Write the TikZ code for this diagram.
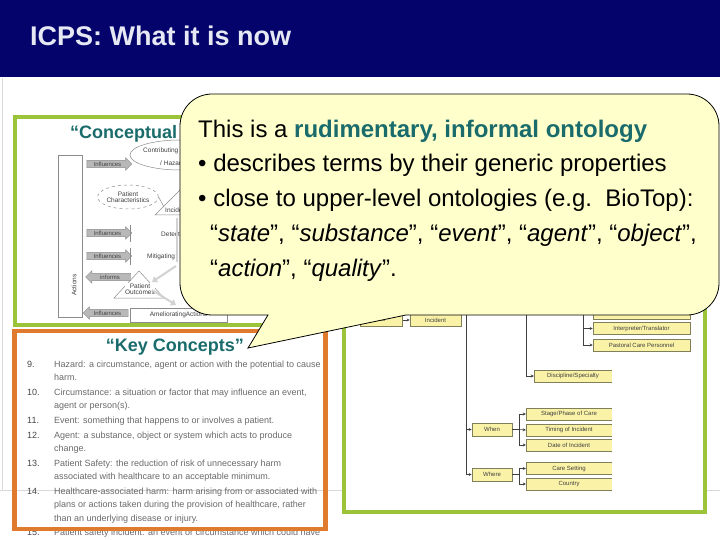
\documentclass[tikz,border=0pt]{standalone}
\usepackage{fontspec}
\setmainfont{Liberation Sans}
\usetikzlibrary{shapes.geometric,shapes.arrows,arrows.meta}
\definecolor{navy}{HTML}{03036B}
\definecolor{titletext}{HTML}{E6E8F4}
\definecolor{kteal}{HTML}{1A6B6B}
\definecolor{fgreen}{HTML}{9BC43A}
\definecolor{forange}{HTML}{E07A2C}
\definecolor{callfill}{HTML}{FFFFCC}
\definecolor{boxfill}{HTML}{FAF2A6}
\definecolor{boxline}{HTML}{7F7F5A}
\definecolor{tmpl}{HTML}{D9D9D9}
\definecolor{listtext}{HTML}{6A6A6A}
\definecolor{listnum}{HTML}{454545}
\definecolor{fwline}{HTML}{8C8C8C}
\definecolor{fwtext}{HTML}{404040}
\definecolor{fwarrow}{HTML}{B8B8B8}
\definecolor{fwflow}{HTML}{D2D2D2}
\tikzset{
  listline/.style={anchor=base west, inner sep=0pt, text=listtext, font=\fontsize{9}{11}\selectfont},
  listno/.style={anchor=base west, inner sep=0pt, text=listnum, font=\fontsize{9}{11}\selectfont},
  callline/.style={anchor=base west, inner sep=0pt, font=\fontsize{24}{28}\selectfont},
  ybox/.style={rectangle, fill=boxfill, draw=boxline, line width=0.6pt, inner sep=0pt,
    font=\fontsize{6}{7}\selectfont, text=black!75},
  cutbox/.style={rectangle, fill=boxfill, inner sep=0pt, font=\fontsize{6}{7}\selectfont, text=black!75},
  tline/.style={draw=black!75, line width=0.6pt},
  tarrow/.style={draw=black!75, line width=0.6pt, -{Stealth[length=3pt,width=3pt]}},
  fatarrow/.style={single arrow, draw=fwline, fill=fwarrow, line width=0.4pt, inner sep=1.2pt,
    single arrow head extend=2.5pt, single arrow head indent=0pt, minimum height=45pt,
    font=\fontsize{6}{7}\selectfont, text=fwtext},
  fwtxt/.style={inner sep=0pt, font=\fontsize{6.5}{7}\selectfont, text=fwtext},
  fwflowarrow/.style={draw=fwflow, line width=2pt, -{Triangle[length=5pt,width=7pt]}},
}
\begin{document}
\begin{tikzpicture}[x=1pt,y=-1pt]
\clip (0,0) rectangle (720,540);
\fill[white] (0,0) rectangle (720,540);
% title bar
\fill[navy] (0,0) rectangle (720,77);
\node[anchor=base west, inner sep=0pt, text=titletext, font=\fontsize{27}{30}\selectfont\bfseries] (title) at (30,46) {ICPS: What it is now};
% template lines
\draw[tmpl, line width=0.8pt] (2.5,78) -- (2.5,490);
\draw[tmpl, line width=0.8pt] (0,490) -- (720,490);

% ---------- left framework frame ----------
\draw[fgreen, line width=4pt] (14.5,117) rectangle (325.5,325);
\node[anchor=base west, inner sep=0pt, text=kteal, font=\fontsize{18}{20}\selectfont\bfseries] (cf) at (70,138.5) {“Conceptual};
\node[draw=fwline, line width=0.5pt, minimum width=24pt, minimum height=162pt, inner sep=0pt] (actions) at (70.5,236) {};
\node[fwtxt, rotate=90] (actlbl) at (74,285) {Actions};
\node[ellipse, draw=fwline, line width=0.5pt, minimum width=100pt, minimum height=30pt, inner sep=0pt] (contrib) at (180,155) {};
\node[fwtxt, anchor=west] (contribA) at (143,151) {Contributing};
\node[fwtxt, anchor=west] (contribB) at (160,163) {/ Hazards};
\node[ellipse, draw=fwline, dashed, line width=0.5pt, minimum width=60pt, minimum height=24pt, inner sep=0pt, align=center, fwtxt] (patchar) at (128,197) {Patient\\[-1pt]Characteristics};
\draw[fwline, line width=0.5pt] (155,215) -- (215,215) -- (185,185) -- cycle;
\node[fwtxt, anchor=west] (incid) at (165,210) {Incident};
\draw[fwline, line width=0.5pt] (patchar.east) -- (164,207);
\node[fwtxt, anchor=west] (detect) at (161,234) {Detection};
\node[fwtxt, anchor=west] (mitig) at (147,257) {Mitigating};
\draw[fwline, line width=0.5pt] (114,298) -- (139,271) -- (164,298) -- cycle;
\node[fwtxt, align=center, fill=white, inner sep=0.5pt] (outc) at (140,289) {Patient\\[-1.5pt]Outcomes};
\node[draw=fwline, line width=0.5pt, minimum width=97pt, minimum height=14pt, inner sep=0pt, fwtxt, fill=white] (amel) at (178.5,315) {AmelioratingActions};
% light flow arrows
\draw[fwflow, line width=1.5pt] (177,218) -- (177,262);
\draw[fwflowarrow] (176,266) -- (152,282);
\draw[fwflowarrow] (152,290) -- (176,305);
% fat arrows
\node[fatarrow] (inf1) at (107.5,164) {Influences};
\node[fatarrow] (inf2) at (107.5,233) {Influences};
\node[fatarrow] (inf3) at (107.5,256) {Influences};
\node[fatarrow, shape border rotate=180] (infm) at (110,277) {informs};
\node[fatarrow, shape border rotate=180] (inf4) at (107.5,313) {Influences};
\coordinate (tick2a) at (130,225); \coordinate (tick2b) at (130,242);
\coordinate (tick3a) at (130,248); \coordinate (tick3b) at (130,265);
\draw[fwline, line width=0.6pt] (tick2a) -- (tick2b);
\draw[fwline, line width=0.6pt] (tick3a) -- (tick3b);

% ---------- key concepts ----------
\node[anchor=base, inner sep=0pt, text=kteal, font=\fontsize{18}{20}\selectfont\bfseries] (kc) at (175,351) {“Key Concepts”};
\node[listno] (n9) at (27,367) {9.};
\node[listline] (l9a) at (54,367) {Hazard: a circumstance, agent or action with the potential to cause};
\node[listline] (l9b) at (54,380.5) {harm.};
\node[listno] (n10) at (27,395) {10.};
\node[listline] (l10a) at (54,395) {Circumstance: a situation or factor that may influence an event,};
\node[listline] (l10b) at (54,408.5) {agent or person(s).};
\node[listno] (n11) at (27,423) {11.};
\node[listline] (l11a) at (54,423) {Event: something that happens to or involves a patient.};
\node[listno] (n12) at (27,438) {12.};
\node[listline] (l12a) at (54,438) {Agent: a substance, object or system which acts to produce};
\node[listline] (l12b) at (54,451.5) {change.};
\node[listno] (n13) at (27,466) {13.};
\node[listline] (l13a) at (54,466) {Patient Safety: the reduction of risk of unnecessary harm};
\node[listline] (l13b) at (54,479.5) {associated with healthcare to an acceptable minimum.};
\node[listno] (n14) at (27,494) {14.};
\node[listline] (l14a) at (54,494) {Healthcare-associated harm: harm arising from or associated with};
\node[listline] (l14b) at (54,507.5) {plans or actions taken during the provision of healthcare, rather};
\node[listline] (l14c) at (54,521) {than an underlying disease or injury.};
\node[listno] (n15) at (27,535.5) {15.};
\node[listline] (l15a) at (54,535.5) {Patient safety incident: an event or circumstance which could have};
\draw[forange, line width=4.5pt] (14.5,331) rectangle (325.5,529);

% ---------- right tree ----------
\draw[fgreen, line width=4pt, fill=white] (344,117) rectangle (705,512);
\node[ybox, minimum width=42pt, minimum height=12pt] (rep) at (381,320) {ator};
\node[ybox, minimum width=51pt, minimum height=12pt] (incident) at (435.5,320) {Incident};
\coordinate (incin) at (403,320);
\draw[tarrow] (incin) -- (incident.west);
\node[ybox, minimum width=97pt, minimum height=12pt] (hidbox) at (641.5,313) {};
\node[ybox, minimum width=97pt, minimum height=12pt] (interp) at (641.5,328.5) {Interpreter/Translator};
\node[ybox, minimum width=97pt, minimum height=12pt] (pastoral) at (641.5,345) {Pastoral Care Personnel};
\node[ybox, minimum width=40pt, minimum height=13pt] (when) at (492,429.5) {When};
\node[ybox, minimum width=40pt, minimum height=13pt] (where) at (492,474.5) {Where};
\node[cutbox, minimum width=78pt, minimum height=12pt] (disc) at (573,376) {Discipline/Specialty};
\node[cutbox, minimum width=86pt, minimum height=12pt] (stage) at (569,414) {Stage/Phase of Care};
\node[cutbox, minimum width=86pt, minimum height=12pt] (timing) at (569,430) {Timing of Incident};
\node[cutbox, minimum width=86pt, minimum height=12pt] (date) at (569,445) {Date of Incident};
\node[cutbox, minimum width=86pt, minimum height=12pt] (care) at (569,468.5) {Care Setting};
\node[cutbox, minimum width=86pt, minimum height=12pt] (country) at (569,484) {Country};
\foreach \b in {disc,stage,timing,date,care,country}{
  \draw[draw=boxline, line width=0.6pt] (\b.north east) -- (\b.north west) -- (\b.south west) -- (\b.south east);
}
\coordinate (v1) at (466,305);
\coordinate (v2) at (526,305);
\coordinate (v3) at (583,305);
\draw[tarrow] (v1) |- (when.west);
\draw[tarrow] (v1) |- (where.west);
\draw[tarrow] (v2) |- (disc.west);
\draw[tarrow] (v3) |- (hidbox.west);
\draw[tarrow] (v3) |- (interp.west);
\draw[tarrow] (v3) |- (pastoral.west);
\coordinate (wj) at (519,429.5);
\coordinate (hj) at (519,474.5);
\draw[tline] (when.east) -- (wj);
\draw[tarrow] (wj) |- (stage.west);
\draw[tarrow] (wj) -- (timing.west);
\draw[tarrow] (wj) |- (date.west);
\draw[tline] (where.east) -- (hj);
\draw[tarrow] (hj) |- (care.west);
\draw[tarrow] (hj) |- (country.west);

% ---------- callout ----------
\draw[fill=callfill, line width=0.8pt] (268,315) [rounded corners=32pt] -- (180,315) -- (180,94) -- (719,94) -- (719,315) [sharp corners] -- (406,315) -- (248,348) -- cycle;
\node[callline] (c1) at (198,138) {This is a \textcolor{kteal}{\bfseries rudimentary, informal ontology}};
\node[callline] (c2) at (198,172) {• describes terms by their generic properties};
\node[callline] (c3) at (198,207) {• close to upper-level ontologies (e.g.\ \ BioTop):};
\node[callline] (c4) at (210,241) {“\textit{state}”, “\textit{substance}”, “\textit{event}”, “\textit{agent}”, “\textit{object}”,};
\node[callline] (c5) at (210,276) {“\textit{action}”, “\textit{quality}”.};
\end{tikzpicture}
\end{document}
